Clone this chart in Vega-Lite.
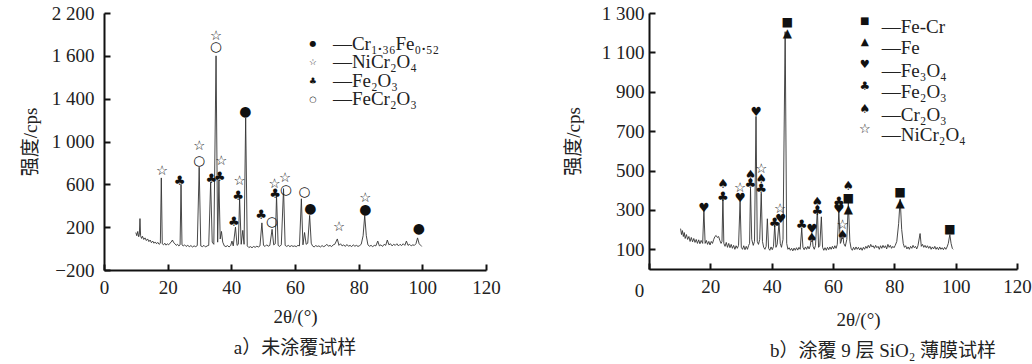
{
"$schema": "https://vega.github.io/schema/vega-lite/v6.json",
"background": "white",
"padding": {"left": 21, "top": 4, "right": 4, "bottom": 2},
"bounds": "flush",
"spacing": 163,
"config": {
 "view": {"stroke": null},
 "axis": {"domainColor": "#111", "domainWidth": 2, "tickColor": "#111", "tickWidth": 2, "tickSize": -6, "labelFont": "Liberation Serif", "labelFontSize": 19, "labelColor": "#222", "titleFont": "Liberation Serif, Noto Sans CJK SC", "titleFontSize": 19, "titleFontWeight": "normal", "titleColor": "#222", "grid": false, "labelFlush": false, "labelOverlap": false}
},
"datasets": {
 "lineA": [
{"x":10.0,"y":150},{"x":10.3,"y":120},{"x":10.6,"y":160},{"x":10.9,"y":110},{"x":11.1,"y":130},{"x":11.3,"y":280},{"x":11.5,"y":120},{"x":11.8,"y":95},{"x":12.1,"y":115},{"x":12.5,"y":85},{"x":12.9,"y":100},{"x":13.3,"y":75},{"x":13.7,"y":90},{"x":14.1,"y":65},{"x":14.5,"y":80},{"x":14.9,"y":55},{"x":15.3,"y":70},{"x":15.7,"y":50},{"x":16.1,"y":62},{"x":16.5,"y":45},{"x":16.9,"y":58},{"x":17.3,"y":40},{"x":17.7,"y":50},{"x":18.0,"y":660},{"x":18.3,"y":45},{"x":18.7,"y":35},{"x":19.1,"y":50},{"x":19.5,"y":32},{"x":19.9,"y":45},{"x":20.3,"y":35},{"x":20.7,"y":50},{"x":21.1,"y":60},{"x":21.5,"y":80},{"x":21.9,"y":55},{"x":22.3,"y":45},{"x":22.7,"y":30},{"x":23.1,"y":40},{"x":23.5,"y":25},{"x":23.9,"y":35},{"x":24.2,"y":600},{"x":24.5,"y":35},{"x":24.9,"y":25},{"x":25.3,"y":35},{"x":25.8,"y":20},{"x":26.3,"y":30},{"x":26.8,"y":18},{"x":27.3,"y":28},{"x":27.8,"y":15},{"x":28.3,"y":25},{"x":28.8,"y":18},{"x":29.3,"y":28},{"x":29.9,"y":760},{"x":30.4,"y":25},{"x":30.9,"y":18},{"x":31.4,"y":30},{"x":31.9,"y":15},{"x":32.4,"y":25},{"x":32.9,"y":30},{"x":33.5,"y":620},{"x":34.0,"y":60},{"x":34.5,"y":40},{"x":35.2,"y":1800},{"x":35.7,"y":60},{"x":36.1,"y":640},{"x":36.5,"y":90},{"x":36.9,"y":160},{"x":37.3,"y":60},{"x":37.8,"y":25},{"x":38.3,"y":18},{"x":38.8,"y":28},{"x":39.3,"y":15},{"x":39.8,"y":30},{"x":40.2,"y":70},{"x":40.6,"y":25},{"x":41.3,"y":200},{"x":41.8,"y":30},{"x":42.2,"y":40},{"x":42.6,"y":470},{"x":43.1,"y":40},{"x":43.6,"y":170},{"x":44.0,"y":40},{"x":44.5,"y":1220},{"x":45.0,"y":25},{"x":45.5,"y":10},{"x":46.0,"y":18},{"x":46.5,"y":8},{"x":47.0,"y":20},{"x":47.5,"y":12},{"x":48.0,"y":22},{"x":48.5,"y":15},{"x":49.0,"y":25},{"x":49.6,"y":240},{"x":50.1,"y":30},{"x":50.6,"y":20},{"x":51.1,"y":35},{"x":51.6,"y":22},{"x":52.1,"y":30},{"x":52.8,"y":180},{"x":53.3,"y":35},{"x":53.8,"y":45},{"x":54.2,"y":495},{"x":54.7,"y":30},{"x":55.2,"y":20},{"x":55.7,"y":35},{"x":56.4,"y":560},{"x":56.9,"y":30},{"x":57.4,"y":20},{"x":57.9,"y":30},{"x":58.4,"y":18},{"x":58.9,"y":28},{"x":59.4,"y":20},{"x":59.9,"y":25},{"x":60.4,"y":18},{"x":60.9,"y":30},{"x":61.4,"y":25},{"x":62.0,"y":465},{"x":62.5,"y":35},{"x":63.0,"y":150},{"x":63.5,"y":40},{"x":64.0,"y":50},{"x":64.6,"y":310},{"x":65.1,"y":50},{"x":65.5,"y":25},{"x":66.0,"y":15},{"x":66.5,"y":28},{"x":67.0,"y":20},{"x":67.5,"y":25},{"x":68.0,"y":15},{"x":68.5,"y":28},{"x":69.0,"y":18},{"x":69.5,"y":25},{"x":70.0,"y":40},{"x":70.5,"y":22},{"x":71.0,"y":30},{"x":71.5,"y":18},{"x":72.0,"y":35},{"x":72.5,"y":40},{"x":73.3,"y":90},{"x":73.8,"y":30},{"x":74.3,"y":45},{"x":74.8,"y":25},{"x":75.3,"y":35},{"x":75.8,"y":20},{"x":76.3,"y":38},{"x":76.8,"y":22},{"x":77.3,"y":30},{"x":77.8,"y":18},{"x":78.3,"y":35},{"x":78.8,"y":22},{"x":79.3,"y":30},{"x":79.8,"y":20},{"x":80.3,"y":28},{"x":80.8,"y":40},{"x":81.4,"y":120},{"x":81.9,"y":310},{"x":82.4,"y":120},{"x":82.9,"y":35},{"x":83.4,"y":22},{"x":83.9,"y":30},{"x":84.4,"y":18},{"x":84.9,"y":30},{"x":85.4,"y":25},{"x":86.0,"y":70},{"x":86.5,"y":25},{"x":87.0,"y":35},{"x":87.5,"y":20},{"x":88.0,"y":40},{"x":88.5,"y":30},{"x":89.0,"y":80},{"x":89.5,"y":35},{"x":90.0,"y":45},{"x":90.5,"y":25},{"x":91.0,"y":40},{"x":91.5,"y":30},{"x":92.0,"y":45},{"x":92.5,"y":25},{"x":93.0,"y":40},{"x":93.5,"y":28},{"x":94.0,"y":45},{"x":94.5,"y":30},{"x":95.0,"y":70},{"x":95.5,"y":30},{"x":96.0,"y":40},{"x":96.5,"y":25},{"x":97.0,"y":35},{"x":97.5,"y":30},{"x":98.0,"y":45},{"x":98.5,"y":100},{"x":99.0,"y":45},{"x":99.5,"y":30},{"x":99.8,"y":20}
 ],
 "markA": [
{"x":18.2,"y":727,"sym":"☆"},{"x":23.8,"y":634,"sym":"♣"},{"x":29.9,"y":961,"sym":"☆"},{"x":29.9,"y":821,"sym":"○"},{"x":33.7,"y":650,"sym":"♣"},{"x":36.8,"y":821,"sym":"☆"},{"x":36.3,"y":666,"sym":"♣"},{"x":35.2,"y":1988,"sym":"☆"},{"x":35.2,"y":1880,"sym":"○"},{"x":42.6,"y":634,"sym":"☆"},{"x":42.1,"y":494,"sym":"♣"},{"x":40.8,"y":251,"sym":"♣"},{"x":44.4,"y":1273,"sym":"●"},{"x":49.4,"y":316,"sym":"♣"},{"x":52.8,"y":245,"sym":"○"},{"x":53.6,"y":603,"sym":"☆"},{"x":53.8,"y":510,"sym":"♣"},{"x":56.9,"y":657,"sym":"☆"},{"x":57.2,"y":550,"sym":"○"},{"x":63.0,"y":531,"sym":"○"},{"x":64.8,"y":370,"sym":"●"},{"x":73.8,"y":204,"sym":"☆"},{"x":82.1,"y":470,"sym":"☆"},{"x":82.1,"y":360,"sym":"●"},{"x":98.9,"y":183,"sym":"●"}
 ],
 "legA": [
{"x":71.9,"y":1911,"label":"—Cr₁.₃₆Fe₀.₅₂","sym":"●"},{"x":71.9,"y":1747,"label":"—NiCr₂O₄","sym":"☆"},{"x":71.9,"y":1569,"label":"—Fe₂O₃","sym":"♣"},{"x":71.9,"y":1400,"label":"—FeCr₂O₃","sym":"○"}
 ],
 "lineB": [
{"x":10.3,"y":205},{"x":10.6,"y":175},{"x":10.9,"y":195},{"x":11.2,"y":165},{"x":11.5,"y":185},{"x":11.8,"y":155},{"x":12.2,"y":175},{"x":12.6,"y":150},{"x":13.0,"y":165},{"x":13.4,"y":140},{"x":13.8,"y":160},{"x":14.2,"y":138},{"x":14.6,"y":155},{"x":15.0,"y":135},{"x":15.4,"y":150},{"x":15.8,"y":130},{"x":16.2,"y":148},{"x":16.6,"y":128},{"x":17.0,"y":145},{"x":17.5,"y":130},{"x":17.9,"y":300},{"x":18.3,"y":130},{"x":18.7,"y":145},{"x":19.1,"y":125},{"x":19.5,"y":140},{"x":19.9,"y":122},{"x":20.3,"y":140},{"x":20.7,"y":130},{"x":21.1,"y":150},{"x":21.5,"y":165},{"x":21.9,"y":170},{"x":22.3,"y":160},{"x":22.7,"y":165},{"x":23.1,"y":145},{"x":23.5,"y":130},{"x":23.8,"y":140},{"x":24.1,"y":375},{"x":24.4,"y":130},{"x":24.8,"y":115},{"x":25.2,"y":135},{"x":25.6,"y":110},{"x":26.0,"y":130},{"x":26.4,"y":108},{"x":26.8,"y":125},{"x":27.2,"y":105},{"x":27.6,"y":120},{"x":28.0,"y":100},{"x":28.4,"y":118},{"x":28.8,"y":105},{"x":29.2,"y":120},{"x":29.7,"y":345},{"x":30.1,"y":110},{"x":30.5,"y":100},{"x":30.9,"y":118},{"x":31.3,"y":98},{"x":31.7,"y":115},{"x":32.1,"y":100},{"x":32.5,"y":120},{"x":32.8,"y":130},{"x":33.1,"y":410},{"x":33.5,"y":150},{"x":34.0,"y":120},{"x":34.4,"y":140},{"x":34.9,"y":775},{"x":35.3,"y":140},{"x":35.7,"y":125},{"x":36.1,"y":150},{"x":36.6,"y":385},{"x":37.0,"y":140},{"x":37.4,"y":110},{"x":37.8,"y":100},{"x":38.2,"y":115},{"x":38.6,"y":255},{"x":39.0,"y":105},{"x":39.4,"y":95},{"x":39.8,"y":112},{"x":40.2,"y":98},{"x":40.6,"y":115},{"x":41.0,"y":225},{"x":41.4,"y":110},{"x":41.8,"y":125},{"x":42.4,"y":235},{"x":42.8,"y":130},{"x":43.2,"y":110},{"x":43.7,"y":150},{"x":44.4,"y":1205},{"x":44.9,"y":130},{"x":45.3,"y":100},{"x":45.7,"y":108},{"x":46.1,"y":95},{"x":46.5,"y":105},{"x":46.9,"y":92},{"x":47.3,"y":106},{"x":47.7,"y":95},{"x":48.1,"y":108},{"x":48.5,"y":96},{"x":48.9,"y":110},{"x":49.3,"y":100},{"x":49.8,"y":205},{"x":50.2,"y":110},{"x":50.6,"y":98},{"x":51.0,"y":112},{"x":51.4,"y":100},{"x":51.8,"y":115},{"x":52.2,"y":102},{"x":52.6,"y":118},{"x":53.1,"y":180},{"x":53.5,"y":115},{"x":53.9,"y":100},{"x":54.3,"y":120},{"x":54.9,"y":305},{"x":55.3,"y":110},{"x":55.7,"y":120},{"x":56.2,"y":265},{"x":56.6,"y":110},{"x":57.0,"y":95},{"x":57.4,"y":108},{"x":57.8,"y":95},{"x":58.2,"y":110},{"x":58.6,"y":98},{"x":59.0,"y":112},{"x":59.4,"y":100},{"x":59.8,"y":115},{"x":60.2,"y":102},{"x":60.6,"y":118},{"x":61.0,"y":105},{"x":61.4,"y":125},{"x":61.9,"y":290},{"x":62.4,"y":130},{"x":62.7,"y":140},{"x":63.1,"y":190},{"x":63.5,"y":130},{"x":64.0,"y":115},{"x":64.5,"y":150},{"x":65.0,"y":335},{"x":65.5,"y":140},{"x":65.9,"y":105},{"x":66.3,"y":95},{"x":66.7,"y":110},{"x":67.1,"y":98},{"x":67.5,"y":112},{"x":67.9,"y":100},{"x":68.3,"y":110},{"x":68.7,"y":97},{"x":69.1,"y":108},{"x":69.5,"y":95},{"x":69.9,"y":110},{"x":70.3,"y":100},{"x":70.7,"y":115},{"x":71.1,"y":105},{"x":71.5,"y":120},{"x":71.9,"y":108},{"x":72.3,"y":125},{"x":72.7,"y":112},{"x":73.1,"y":118},{"x":73.5,"y":105},{"x":73.9,"y":120},{"x":74.3,"y":108},{"x":74.7,"y":115},{"x":75.1,"y":100},{"x":75.5,"y":118},{"x":75.9,"y":105},{"x":76.3,"y":120},{"x":76.7,"y":108},{"x":77.1,"y":118},{"x":77.5,"y":102},{"x":77.9,"y":125},{"x":78.3,"y":110},{"x":78.7,"y":120},{"x":79.1,"y":105},{"x":79.5,"y":115},{"x":79.9,"y":108},{"x":80.3,"y":120},{"x":80.8,"y":140},{"x":81.4,"y":230},{"x":81.9,"y":355},{"x":82.4,"y":200},{"x":82.9,"y":130},{"x":83.3,"y":110},{"x":83.7,"y":118},{"x":84.1,"y":102},{"x":84.5,"y":112},{"x":84.9,"y":100},{"x":85.3,"y":115},{"x":85.7,"y":105},{"x":86.1,"y":120},{"x":86.5,"y":108},{"x":86.9,"y":115},{"x":87.3,"y":102},{"x":87.7,"y":118},{"x":88.4,"y":180},{"x":88.8,"y":115},{"x":89.2,"y":125},{"x":89.6,"y":110},{"x":90.0,"y":120},{"x":90.4,"y":108},{"x":90.8,"y":118},{"x":91.2,"y":105},{"x":91.6,"y":115},{"x":92.0,"y":100},{"x":92.4,"y":112},{"x":92.8,"y":102},{"x":93.2,"y":115},{"x":93.6,"y":100},{"x":94.0,"y":110},{"x":94.4,"y":98},{"x":94.8,"y":112},{"x":95.2,"y":100},{"x":95.6,"y":108},{"x":96.0,"y":98},{"x":96.4,"y":110},{"x":96.8,"y":100},{"x":97.2,"y":112},{"x":97.6,"y":130},{"x":98.1,"y":175},{"x":98.5,"y":130},{"x":98.9,"y":105},{"x":99.2,"y":100}
 ],
 "markB": [
{"x":17.9,"y":310,"sym":"♥"},{"x":24.1,"y":366,"sym":"♣"},{"x":24.1,"y":434,"sym":"♠"},{"x":29.7,"y":361,"sym":"♥"},{"x":29.7,"y":412,"sym":"☆"},{"x":33.1,"y":432,"sym":"♣"},{"x":33.1,"y":476,"sym":"♠"},{"x":34.9,"y":798,"sym":"♥"},{"x":36.6,"y":408,"sym":"♣"},{"x":36.6,"y":459,"sym":"♠"},{"x":36.6,"y":510,"sym":"☆"},{"x":41.0,"y":235,"sym":"♣"},{"x":42.9,"y":252,"sym":"♥"},{"x":42.7,"y":303,"sym":"☆"},{"x":45.1,"y":1252,"sym":"■"},{"x":45.1,"y":1200,"sym":"▲"},{"x":49.8,"y":222,"sym":"♣"},{"x":53.1,"y":205,"sym":"♥"},{"x":53.1,"y":158,"sym":"♠"},{"x":54.9,"y":296,"sym":"♣"},{"x":54.9,"y":340,"sym":"♠"},{"x":61.9,"y":340,"sym":"♣"},{"x":61.9,"y":303,"sym":"♥"},{"x":63.1,"y":222,"sym":"☆"},{"x":63.1,"y":171,"sym":"♠"},{"x":65.0,"y":303,"sym":"▲"},{"x":65.0,"y":361,"sym":"■"},{"x":65.0,"y":422,"sym":"♠"},{"x":81.9,"y":391,"sym":"■"},{"x":81.9,"y":337,"sym":"▲"},{"x":98.1,"y":205,"sym":"■"}
 ],
 "legB": [
{"x":75.9,"y":1230,"label":"—Fe-Cr","sym":"■"},{"x":75.9,"y":1120,"label":"—Fe","sym":"▲"},{"x":75.9,"y":1004,"label":"—Fe₃O₄","sym":"♥"},{"x":75.9,"y":899,"label":"—Fe₂O₃","sym":"♣"},{"x":75.9,"y":784,"label":"—Cr₂O₃","sym":"♠"},{"x":75.9,"y":682,"label":"—NiCr₂O₄","sym":"☆"}
 ]
},
"hconcat": [
 {
  "width": 382, "height": 257,
  "title": {"text": "a）未涂覆试样", "orient": "bottom", "font": "Liberation Serif, Noto Sans CJK SC", "fontSize": 19, "fontWeight": "normal", "color": "#222", "offset": 13},
  "resolve": {"scale": {"size": "independent"}},
  "layer": [
   {"data": {"name": "lineA"}, "mark": {"type": "line", "color": "#333", "strokeWidth": 0.9},
    "encoding": {
     "x": {"field": "x", "type": "quantitative", "scale": {"domain": [0, 120], "nice": false}, "axis": {"values": [0,20,40,60,80,100,120], "title": "2θ/(°)", "labelPadding": 14, "titlePadding": 10}},
     "y": {"field": "y", "type": "quantitative", "scale": {"domain": [-200, 2200], "nice": false}, "axis": {"values": [-200,200,600,1000,1400,1800,2200], "labelExpr": "datum.value == 1800 ? '1 600' : replace(format(datum.value, ','), ',', ' ')", "title": "强度/cps", "labelPadding": 16, "titlePadding": 11}}
    }},
   {"data": {"name": "markA"}, "mark": {"type": "text", "font": "DejaVu Sans", "fontWeight": "bold", "color": "#111", "baseline": "middle"},
    "encoding": {
     "x": {"field": "x", "type": "quantitative"},
     "y": {"field": "y", "type": "quantitative"},
     "text": {"field": "sym"},
     "size": {"field": "sym", "type": "nominal", "legend": null, "scale": {"domain": ["●","○","☆","♣","♠","♥","■","▲"], "range": [14,12,14,13,13,13,13,15]}}
    }},
   {"data": {"name": "legA"}, "mark": {"type": "text", "font": "Liberation Serif", "fontSize": 19, "color": "#222", "align": "left", "baseline": "middle"},
    "encoding": {"x": {"field": "x", "type": "quantitative"}, "y": {"field": "y", "type": "quantitative"}, "text": {"field": "label"}}},
   {"data": {"name": "legA"}, "mark": {"type": "text", "font": "DejaVu Sans", "fontWeight": "bold", "color": "#111", "baseline": "middle", "dx": -20},
    "encoding": {"x": {"field": "x", "type": "quantitative"}, "y": {"field": "y", "type": "quantitative"}, "text": {"field": "sym"},
     "size": {"field": "sym", "type": "nominal", "legend": null, "scale": {"domain": ["●","○","☆","♣"], "range": [8,9,13,10]}}}}
  ]
 },
 {
  "width": 368, "height": 256,
  "title": {"text": "b）涂覆 9 层 SiO₂ 薄膜试样", "orient": "bottom", "font": "Liberation Serif, Noto Sans CJK SC", "fontSize": 19, "fontWeight": "normal", "color": "#222", "offset": 13, "dx": 50},
  "resolve": {"scale": {"size": "independent"}},
  "layer": [
   {"data": {"name": "lineB"}, "mark": {"type": "line", "color": "#333", "strokeWidth": 0.9},
    "encoding": {
     "x": {"field": "x", "type": "quantitative", "scale": {"domain": [0, 120], "nice": false}, "axis": {"values": [0,20,40,60,80,100,120], "title": "2θ/(°)", "titleX": 209, "labelPadding": {"condition": {"test": "datum.value === 0", "value": 18}, "value": 14}, "labelOffset": {"condition": {"test": "datum.value === 0", "value": -10}, "value": 0}, "titlePadding": 10}},
     "y": {"field": "y", "type": "quantitative", "scale": {"domain": [0, 1300], "nice": false}, "axis": {"values": [100,200,300,400,500,600,700,800,900,1000,1100,1200,1300], "labelExpr": "replace(format(datum.value, ','), ',', ' ')", "title": "强度/cps", "labelPadding": 11, "titlePadding": 18}}
    }},
   {"data": {"name": "markB"}, "mark": {"type": "text", "font": "DejaVu Sans", "fontWeight": "bold", "color": "#111", "baseline": "middle"},
    "encoding": {
     "x": {"field": "x", "type": "quantitative"},
     "y": {"field": "y", "type": "quantitative"},
     "text": {"field": "sym"},
     "size": {"field": "sym", "type": "nominal", "legend": null, "scale": {"domain": ["●","○","☆","♣","♠","♥","■","▲"], "range": [14,12,14,13,13,13,14,16]}}
    }},
   {"data": {"name": "legB"}, "mark": {"type": "text", "font": "Liberation Serif", "fontSize": 19, "color": "#222", "align": "left", "baseline": "middle"},
    "encoding": {"x": {"field": "x", "type": "quantitative"}, "y": {"field": "y", "type": "quantitative"}, "text": {"field": "label"}}},
   {"data": {"name": "legB"}, "mark": {"type": "text", "font": "DejaVu Sans", "fontWeight": "bold", "color": "#111", "baseline": "middle", "dx": -17, "dy": -6},
    "encoding": {"x": {"field": "x", "type": "quantitative"}, "y": {"field": "y", "type": "quantitative"}, "text": {"field": "sym"},
     "size": {"field": "sym", "type": "nominal", "legend": null, "scale": {"domain": ["■","▲","♥","♣","♠","☆"], "range": [10,13,10,10,10,13]}}}}
  ]
 }
]
}
